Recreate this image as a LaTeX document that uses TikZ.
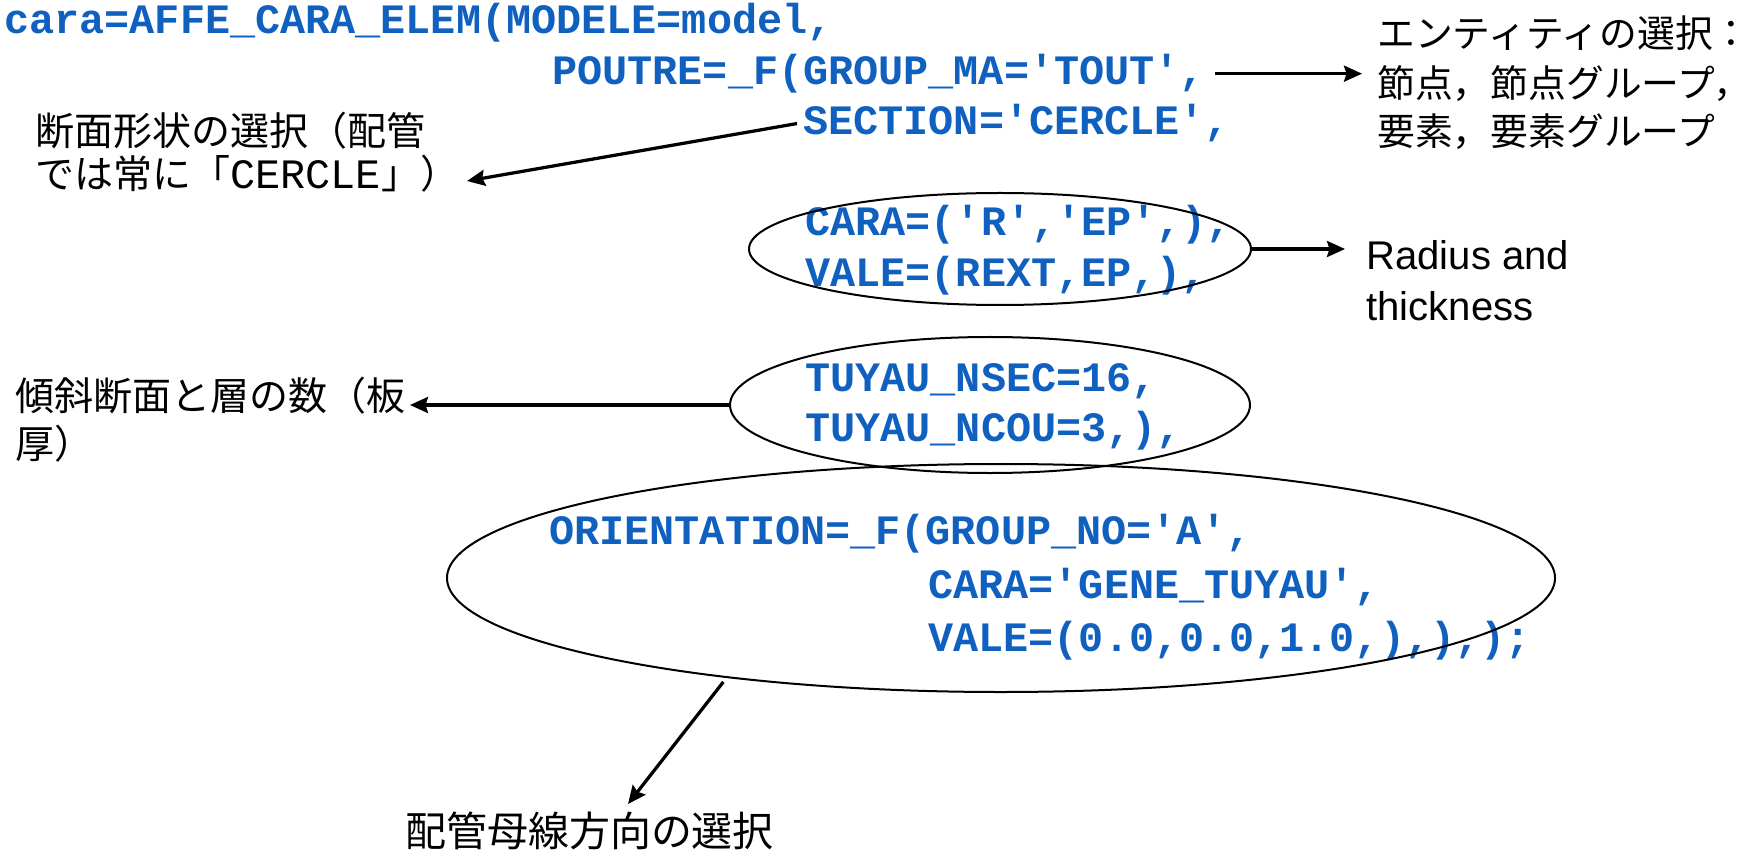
\documentclass[tikz,border=0pt]{standalone}
\usepackage{fontspec}
\setmonofont{Liberation Mono}
\newfontfamily\jpfont{Noto Sans CJK JP}
\newfontfamily\arialfont{Liberation Sans}
\usetikzlibrary{arrows.meta,shapes.geometric}

\definecolor{codeblue}{RGB}{16,96,192}

\tikzset{
  code/.style={anchor=base west, inner sep=0pt, text=codeblue,
    font=\ttfamily\bfseries\fontsize{23.8}{28}\selectfont},
  note/.style={anchor=base west, inner sep=0pt,
    font=\jpfont\fontsize{22.2}{26}\selectfont},
  codering/.style={draw, ellipse, line width=0.4mm, inner sep=0pt},
  arr/.style={line width=0.65mm,
    -{Stealth[length=3.6mm, width=3.2mm, inset=0.5mm]}},
}

\begin{document}
\begin{tikzpicture}[x=0.2mm, y=-0.2mm]
  \useasboundingbox (0,0) rectangle (1759,853);

  % the command itself
  \node[code] (cara)    at (4,34)     {cara=AFFE\_CARA\_ELEM(MODELE=model,};
  \node[code] (poutre)  at (552,84.5) {POUTRE=\_F(GROUP\_MA='TOUT',};
  \node[code] (section) at (803,135)  {SECTION='CERCLE',};
  \node[code] (carar)   at (805,236)  {CARA=('R','EP',),};
  \node[code] (valer)   at (805,286.5){VALE=(REXT,EP,),};
  \node[code] (nsec)    at (805,391)  {TUYAU\_NSEC=16,};
  \node[code] (ncou)    at (805,441.5){TUYAU\_NCOU=3,),};
  \node[code] (orient)  at (549,544.5){ORIENTATION=\_F(GROUP\_NO='A',};
  \node[code] (carag)   at (928,598)  {CARA='GENE\_TUYAU',};
  \node[code] (valeg)   at (928,651)  {VALE=(0.0,0.0,1.0,),),);};

  % rings round the keyword groups
  \node[codering, minimum width=100.4mm, minimum height=22.4mm] (radii) at (1000,249) {};
  \node[codering, minimum width=104mm, minimum height=27.2mm] (tuyau) at (990,405) {};
  \node[codering, minimum width=221.6mm, minimum height=45.6mm] (orring) at (1001,578) {};

  % comments
  \node[note, font=\jpfont\fontsize{21.5}{26}\selectfont] (entity1) at (1377,48) {エンティティの選択：};
  \node[note, font=\jpfont\fontsize{21.5}{26}\selectfont] (entity2) at (1377,98) {節点，節点グループ，};
  \node[note, font=\jpfont\fontsize{21.5}{26}\selectfont] (entity3) at (1377,146) {要素，要素グループ};
  \node[note] (shape1) at (35,146) {断面形状の選択（配管};
  \node[note] (shape2) at (35,189) {では常に「{\ttfamily\fontsize{23.8}{28}\selectfont CERCLE}」）};
  \node[note, font=\arialfont\fontsize{22.8}{26}\selectfont] (radius1) at (1366,270) {Radius and};
  \node[note, font=\arialfont\fontsize{22.8}{26}\selectfont] (radius2) at (1366,320) {thickness};
  \node[note] (layers1) at (15,410) {傾斜断面と層の数（板};
  \node[note] (layers2) at (15,458) {厚）};
  \node[note, font=\jpfont\fontsize{23.3}{26}\selectfont] (direction) at (405,846) {配管母線方向の選択};

  % arrows
  \coordinate (enttip) at (1362,0);
  \coordinate (radtip) at (1345,0);
  \coordinate (shapetip) at (467,181);
  \coordinate (layertip) at (410,0);
  \coordinate (dirtip) at (628,804);
  \draw[arr] ([xshift=2mm]poutre.east) -- (poutre.east -| enttip);
  \draw[arr] ([xshift=-1.2mm]section.west) -- (shapetip);
  \draw[arr] (radii.east) -- (radii.east -| radtip);
  \draw[arr] (tuyau.west) -- (tuyau.west -| layertip);
  \draw[arr, shorten <=1mm] (orring.200) -- (dirtip);
\end{tikzpicture}
\end{document}
